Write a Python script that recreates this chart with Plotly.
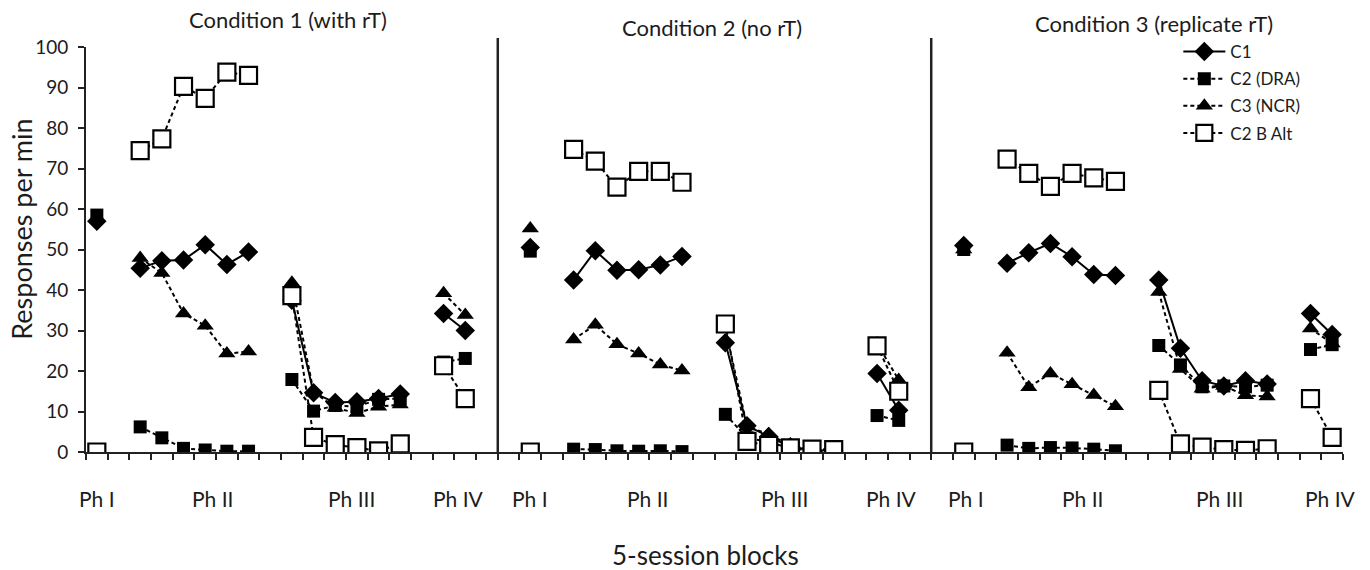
import plotly.graph_objects as go

# ---------------- data ----------------
conditions = ["Condition 1 (with rT)", "Condition 2 (no rT)", "Condition 3 (replicate rT)"]
phase_names = ["Ph I", "Ph II", "Ph III", "Ph IV"]
series_names = ["C1", "C2 (DRA)", "C3 (NCR)", "C2 B Alt"]

# block index (category slot) of each 5-session block inside a condition, per phase
phase_slots = [[0], [2, 3, 4, 5, 6, 7], [9, 10, 11, 12, 13, 14], [16, 17]]
condition_start = [0, 20, 40]

# values per condition: Ph I (1), Ph II (6), Ph III (6), Ph IV (2)
c1_cond1 = [57.0, 45.4, 47.2, 47.4, 51.2, 46.3, 49.4, 37.5, 14.6, 12.2, 12.4, 13.2, 14.3, 34.2, 30.0]
c1_cond2 = [50.5, 42.5, 49.7, 44.9, 45.0, 46.2, 48.3, 27.0, 6.5, 3.8, 1.3, 0.5, 0.3, 19.4, 10.3]
c1_cond3 = [51.0, 46.6, 49.2, 51.5, 48.2, 43.8, 43.6, 42.5, 25.6, 17.6, 16.3, 17.6, 16.8, 34.2, 29.0]

c2_cond1 = [58.5, 6.2, 3.5, 0.9, 0.5, 0.2, 0.2, 17.9, 10.1, 11.5, 11.2, 13.0, 13.2, 22.2, 23.1]
c2_cond2 = [49.6, 0.7, 0.6, 0.3, 0.2, 0.3, 0.1, 9.3, 3.5, 2.5, 0.9, 0.3, 0.0, 9.0, 7.8]
c2_cond3 = [50.0, 1.7, 0.9, 1.1, 1.0, 0.7, 0.3, 26.3, 21.5, 16.1, 16.3, 16.1, 16.5, 25.3, 26.5]

c3_cond1 = [None, 47.9, 44.2, 34.2, 31.2, 24.3, 24.8, 41.8, 14.9, 10.9, 9.6, 11.2, 11.7, 39.2, 33.8]
c3_cond2 = [55.2, 27.8, 31.4, 26.6, 24.3, 21.6, 20.1, 30.5, 6.3, 4.4, 1.6, 0.5, 0.5, 26.8, 17.8]
c3_cond3 = [50.0, 24.5, 16.0, 19.4, 16.7, 14.1, 11.3, 39.5, 20.5, 15.6, 16.3, 14.0, 13.7, 30.5, 26.8]

alt_cond1 = [0.0, 74.4, 77.3, 90.3, 87.3, 93.8, 93.0, 38.6, 3.6, 1.8, 1.1, 0.3, 2.0, 21.3, 13.2]
alt_cond2 = [0.0, 74.7, 71.8, 65.4, 69.3, 69.3, 66.6, 31.6, 2.6, 1.6, 1.0, 0.7, 0.6, 26.2, 15.0]
alt_cond3 = [0.0, 72.3, 68.8, 65.6, 68.8, 67.7, 66.8, 15.2, 2.0, 1.2, 0.6, 0.4, 0.8, 13.2, 3.6]

y_ticks = [0, 10, 20, 30, 40, 50, 60, 70, 80, 90, 100]
# ---------------------------------------

FONT = "Lato"
INK = "#1c1c1c"


def build(series_by_cond):
    xs, ys = [], []
    for ci, vals in enumerate(series_by_cond):
        k = 0
        for slots in phase_slots:
            for s in slots:
                xs.append(condition_start[ci] + s)
                ys.append(vals[k])
                k += 1
            xs.append(None)
            ys.append(None)
    return xs, ys


styles = [
    dict(dash="solid", symbol="diamond", size=15, color="black", line=dict(width=0)),
    dict(dash="4px,3px", symbol="square", size=13, color="black", line=dict(width=0)),
    dict(dash="4px,3px", symbol="triangle-up", size=15, color="black", line=dict(width=0)),
    dict(dash="4px,3px", symbol="square", size=17, color="white", line=dict(width=2.2, color="black")),
]
all_series = [
    [c1_cond1, c1_cond2, c1_cond3],
    [c2_cond1, c2_cond2, c2_cond3],
    [c3_cond1, c3_cond2, c3_cond3],
    [alt_cond1, alt_cond2, alt_cond3],
]

fig = go.Figure()
for name, data, st in zip(series_names, all_series, styles):
    xs, ys = build(data)
    fig.add_trace(go.Scatter(
        x=xs, y=ys, name=name, mode="lines+markers", connectgaps=False,
        legendgroup=name,
        line=dict(color="black", width=2, dash=st["dash"]),
        marker=dict(symbol=st["symbol"], size=st["size"], color=st["color"], line=st["line"]),
    ))

n_slots = condition_start[-1] + 18
boundaries = [i - 0.5 for i in range(n_slots + 1)]

# separators between conditions
for cs in condition_start[1:]:
    fig.add_shape(type="line", xref="x", yref="paper", x0=cs - 1.5, x1=cs - 1.5, y0=0, y1=1.022,
                  line=dict(color="#222", width=2.5))

annotations = []
title_x = [8.8, 28.4, 48.8]
title_y = [1.067, 1.049, 1.059]
for t, x, y in zip(conditions, title_x, title_y):
    annotations.append(dict(text=t, x=x, xref="x", y=y, yref="paper", showarrow=False,
                            font=dict(family=FONT, size=22, color=INK), xanchor="center", yanchor="middle"))

phase_label_x = [[0.0, 5.35, 11.75, 16.7], [20.0, 25.4, 31.75, 36.65], [40.1, 45.5, 51.8, 56.9]]
for row in phase_label_x:
    for nm, x in zip(phase_names, row):
        annotations.append(dict(text=nm, x=x, xref="x", y=-0.114, yref="paper", showarrow=False,
                                font=dict(family=FONT, size=21, color=INK), xanchor="center", yanchor="middle"))

annotations.append(dict(text="5-session blocks", x=0.4925, xref="paper", y=-0.254, yref="paper",
                        showarrow=False, font=dict(family=FONT, size=26, color=INK),
                        xanchor="center", yanchor="middle"))
annotations.append(dict(text="Responses per min", x=-0.051, xref="paper", y=0.551, yref="paper",
                        showarrow=False, textangle=-90, font=dict(family=FONT, size=27, color=INK),
                        xanchor="center", yanchor="middle"))

fig.update_layout(
    width=1370, height=570,
    margin=dict(l=86, r=27, t=47, b=118),
    paper_bgcolor="white", plot_bgcolor="white",
    font=dict(family=FONT, color=INK),
    annotations=annotations,
    showlegend=True,
    legend=dict(x=0.869, y=1.032, xanchor="left", yanchor="top", bgcolor="rgba(0,0,0,0)",
                font=dict(family=FONT, size=17, color=INK), traceorder="grouped", tracegroupgap=2,
                itemwidth=42),
    xaxis=dict(range=[-0.5, n_slots - 0.5], tickmode="array", tickvals=boundaries,
               ticktext=["" for _ in boundaries], ticks="outside", ticklen=6, tickwidth=1.5,
               tickcolor="#222", showline=True, linecolor="#222", linewidth=2,
               showgrid=False, zeroline=False),
    yaxis=dict(range=[0, 100], tickmode="array", tickvals=y_ticks, ticks="outside", ticklen=6,
               tickwidth=1.5, tickcolor="#222", showline=True, linecolor="#222", linewidth=2,
               showgrid=False, zeroline=False, ticklabelstandoff=6,
               tickfont=dict(family=FONT, size=19, color=INK)),
)

fig.write_html("out.html")
